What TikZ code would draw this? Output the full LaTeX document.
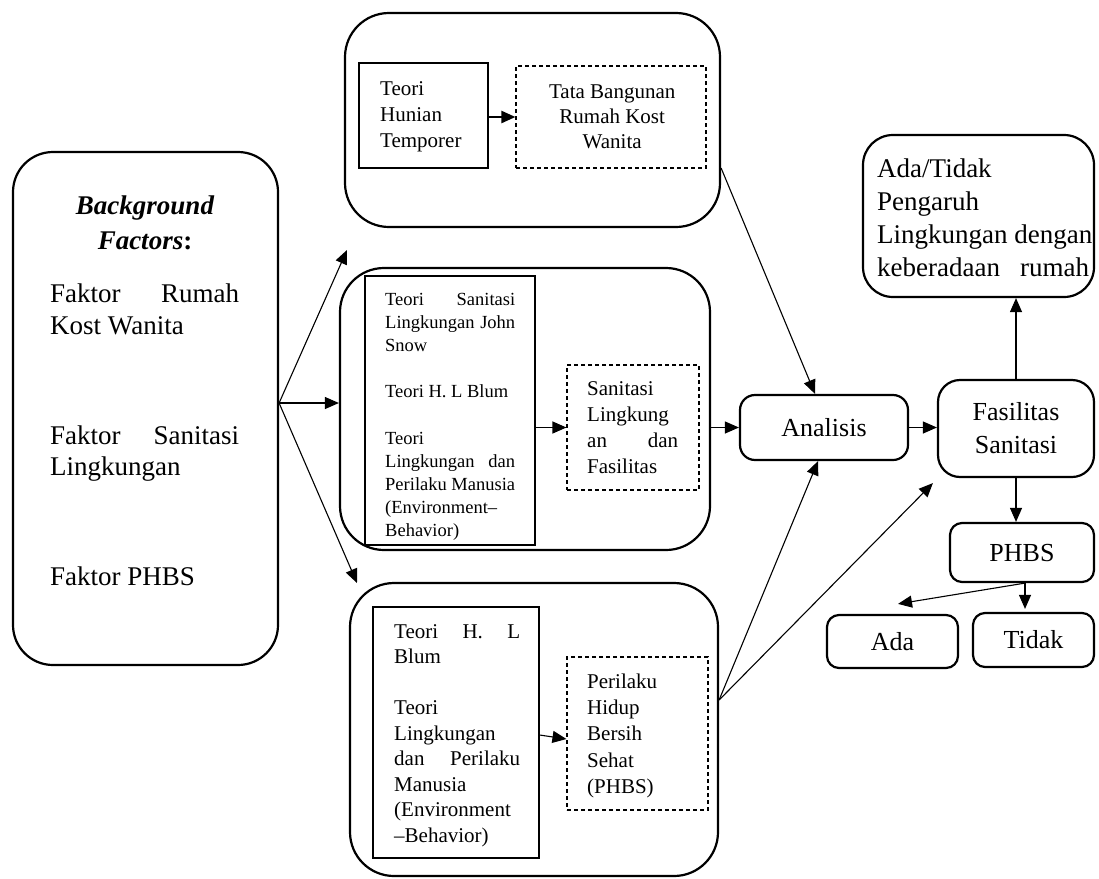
\documentclass[tikz,border=0pt]{standalone}
\usepackage{fontspec}
\setmainfont{Liberation Serif}
\usetikzlibrary{arrows.meta,calc}
\newcommand\TBlk[3]{\vtop{\hsize=#1\relax\baselineskip=#2\relax\lineskiplimit=-100pt\lineskip=0pt\parindent=0pt\relax #3}}
\newcommand\Lj[1]{\hbox to\hsize{#1}}
\newcommand\Ll[1]{\hbox{#1}}
\newcommand\Lc[1]{\hbox to\hsize{\hfil #1\hfil}}
\begin{document}
\begin{tikzpicture}[x=1pt,y=-1pt,
  obox/.style={draw, line width=2.2pt, inner sep=0pt},
  ibox/.style={draw, line width=1.2pt, inner sep=0pt},
  dbox/.style={draw, line width=1.1pt, dash pattern=on 4pt off 3pt, inner sep=0pt},
  rbox/.style={draw, line width=2.2pt, inner sep=0pt, font=\fontsize{26}{32}\selectfont},
  tx/.style={anchor=base west, inner sep=0pt},
  arr/.style={-{Triangle[length=14pt,width=12pt]}, line width=1.1pt},
  tarr/.style={-{Triangle[length=14pt,width=12pt]}, line width=2.2pt}]
\useasboundingbox (0,0) rectangle (1099,878);

% boxes
\node[obox, rounded corners=40pt, minimum width=265pt, minimum height=513pt] (bf) at (145.5,408.5) {};
\node[obox, rounded corners=44pt, minimum width=375pt, minimum height=214pt] (top) at (532.5,120) {};
\node[ibox, minimum width=129pt, minimum height=105pt] (itop) at (423.5,115.5) {};
\node[dbox, minimum width=190pt, minimum height=102pt] (dtop) at (611,117) {};
\node[obox, rounded corners=44pt, minimum width=370pt, minimum height=282pt] (mid) at (525,409) {};
\node[ibox, minimum width=170pt, minimum height=269pt] (imid) at (450,410.5) {};
\node[dbox, minimum width=132pt, minimum height=125pt] (dmid) at (633,427.5) {};
\node[obox, rounded corners=44pt, minimum width=368pt, minimum height=293pt] (bot) at (534,729.5) {};
\node[ibox, minimum width=166pt, minimum height=251pt] (ibot) at (456,732.5) {};
\node[dbox, minimum width=141pt, minimum height=153pt] (dbot) at (637.5,733.5) {};
\node[rbox, rounded corners=15pt, minimum width=168pt, minimum height=65pt] (ana) at (824,427.5) {Analisis};
\node[rbox, rounded corners=22pt, minimum width=156pt, minimum height=97pt, align=center, font=\fontsize{26}{33}\selectfont] (fas) at (1016,428.5) {Fasilitas\\Sanitasi};
\node[obox, rounded corners=30pt, minimum width=231pt, minimum height=162pt] (adt) at (978.5,216) {};
\node[rbox, rounded corners=12pt, minimum width=144pt, minimum height=59pt, text height=18pt, text depth=-4pt] (phbs) at (1022,552.5) {PHBS};
\node[rbox, rounded corners=12pt, minimum width=131pt, minimum height=53pt] (ada) at (892.5,641.5) {Ada};
\node[rbox, rounded corners=12pt, minimum width=121pt, minimum height=54pt] (tdk) at (1033.5,640) {Tidak};

% texts: background factors
\node[anchor=base, inner sep=0pt, font=\fontsize{27}{32}\selectfont] (bg1) at (145,214) {\bfseries\itshape Background};
\node[anchor=base, inner sep=0pt, font=\fontsize{27}{32}\selectfont] (bg2) at (145,249) {\bfseries\itshape Factors\/\upshape:};
\node[tx, font=\fontsize{27}{32}\selectfont] (f1) at (50,302) {\TBlk{189pt}{32pt}{\Lj{Faktor\hfill Rumah}\Ll{Kost Wanita}}};
\node[tx, font=\fontsize{27}{32}\selectfont] (f2) at (50,444) {\TBlk{189pt}{31pt}{\Lj{Faktor\hfill Sanitasi}\Ll{Lingkungan}}};
\node[tx, font=\fontsize{27}{32}\selectfont] (f3) at (50,585) {Faktor PHBS};

% top box texts
\node[tx, font=\fontsize{21}{26}\selectfont] (t1t) at (380,95) {\TBlk{100pt}{26pt}{\Ll{Teori}\Ll{Hunian}\Ll{Temporer}}};
\node[tx, font=\fontsize{21}{25}\selectfont] (t2t) at (517,98.5) {\TBlk{190pt}{25pt}{\Lc{Tata Bangunan}\Lc{Rumah Kost}\Lc{Wanita}}};

% middle box texts
\node[tx, font=\fontsize{18.5}{23.1}\selectfont] (m1t) at (385,305.5) {\TBlk{130pt}{23.1pt}{\Lj{Teori\hfill Sanitasi}\Lj{Lingkungan\hfill John}\Ll{Snow}\Ll{}\Ll{Teori H. L Blum}\Ll{}\Ll{Teori}\Lj{Lingkungan\hfill dan}\Ll{Perilaku Manusia}\Ll{(Environment–}\Ll{Behavior)}}};
\node[tx, font=\fontsize{21}{26}\selectfont] (m2t) at (587,395) {\TBlk{91pt}{26.3pt}{\Ll{Sanitasi}\Ll{Lingkung}\Lj{an\hfill dan}\Ll{Fasilitas}}};

% bottom box texts
\node[tx, font=\fontsize{21}{25.5}\selectfont] (b1t) at (394,638) {\TBlk{126pt}{25.5pt}{\Lj{Teori\hfill H.\hfill L}\Ll{Blum}\Ll{}\Ll{Teori}\Ll{Lingkungan}\Lj{dan\hfill Perilaku}\Ll{Manusia}\Ll{(Environment}\Ll{–Behavior)}}};
\node[tx, font=\fontsize{21}{26}\selectfont] (b2t) at (587,688.5) {\TBlk{110pt}{26.2pt}{\Ll{Perilaku}\Ll{Hidup}\Ll{Bersih}\Ll{Sehat}\Ll{(PHBS)}}};

% result box text
\node[tx, font=\fontsize{27}{33}\selectfont] (adtt) at (877,177) {\TBlk{212pt}{33pt}{\Ll{Ada/Tidak}\Ll{Pengaruh}\Ll{Lingkungan dengan}\Lj{keberadaan\hfill rumah}}};

% connectors
\coordinate (bfo) at ($(bf.east)+(0,-5.5)$);
\coordinate (e1) at (347,250);
\coordinate (e3) at (357,583);
\draw[arr] (bfo) -- (e1);
\draw[arr] (bfo) -- (bfo -| mid.west);
\draw[arr] (bfo) -- (e3);
\draw[tarr] (itop.east |- dtop.west) -- (dtop.west);
\draw[arr] (imid.east |- dmid.west) -- (dmid.west);
\draw[arr] (mid.east |- ana.west) -- (ana.west);
\draw[arr] ($(ibot.east)+(0,2.5)$) -- ($(dbot.west)+(0,5.5)$);
\draw[arr] ($(top.east)+(0,48)$) -- ($(ana.north)+(-9,0)$);
\coordinate (b4o) at ($(bot.east)+(0,-29.5)$);
\draw[arr] (b4o) -- ($(ana.south)+(-6,0)$);
\draw[arr] (b4o) -- ($(fas.south west)+(-4,5)$);
\draw[arr] (ana.east) -- (ana.east -| fas.west);
\draw[arr] (fas.north) -- (fas.north |- adt.south);
\draw[arr] (fas.south) -- (fas.south |- phbs.north);
\coordinate (po) at ($(phbs.south)+(3,0)$);
\draw[arr] (po) -- ($(ada.north)+(5.5,-10)$);
\draw[arr] (po) -- ($(tdk.north)+(-8.5,-3)$);
\end{tikzpicture}
\end{document}
